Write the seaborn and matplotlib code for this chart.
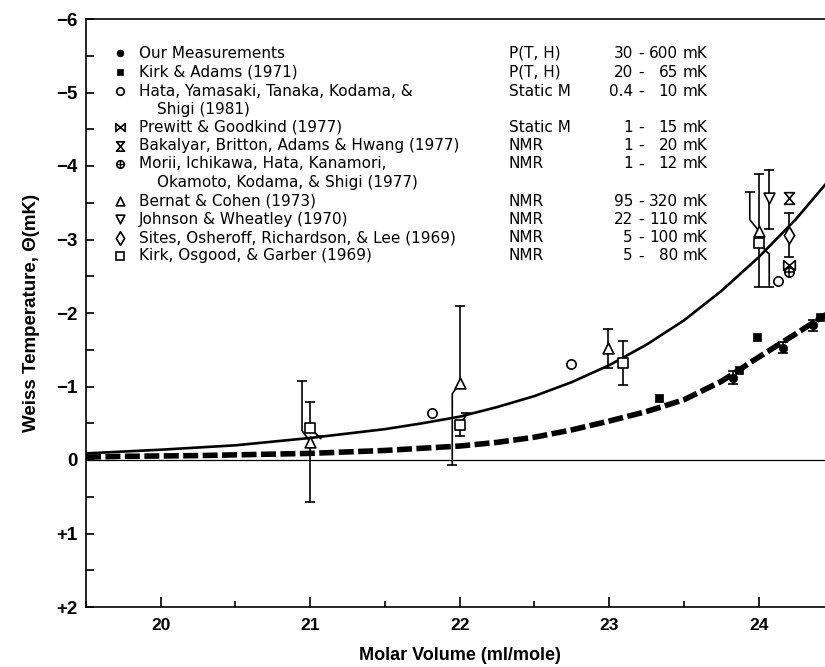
import matplotlib
matplotlib.use("Agg")
import matplotlib.pyplot as plt
from matplotlib.path import Path
from matplotlib.ticker import MultipleLocator
import seaborn as sns

# theory curves
curve_x = [19.5, 19.75, 20.0, 20.25, 20.5, 20.75, 21.0, 21.25, 21.5, 21.75, 22.0,
           22.25, 22.5, 22.75, 23.0, 23.25, 23.5, 23.75, 24.0, 24.25, 24.45]
solid_y = [-0.09, -0.115, -0.14, -0.17, -0.20, -0.25, -0.30, -0.36, -0.42, -0.50, -0.59,
           -0.72, -0.87, -1.06, -1.29, -1.57, -1.90, -2.30, -2.76, -3.28, -3.76]
dashed_y = [-0.04, -0.05, -0.055, -0.06, -0.07, -0.08, -0.09, -0.11, -0.13, -0.16, -0.19,
            -0.24, -0.31, -0.41, -0.53, -0.66, -0.82, -1.07, -1.40, -1.72, -1.98]

# data sets
ours_x = [23.83, 24.16, 24.36]
ours_y = [-1.12, -1.53, -1.83]
ours_top = [-1.21, -1.60, -1.91]
ours_bot = [-1.03, -1.45, -1.75]

kirk_adams_x = [23.33, 23.87, 23.99, 24.41]
kirk_adams_y = [-0.85, -1.23, -1.67, -1.95]

hata_x = [21.815, 22.745, 24.13]
hata_y = [-0.64, -1.30, -2.43]

prewitt_x = [24.2]
prewitt_y = [-2.65]

bakalyar_x = [24.2]
bakalyar_y = [-3.56]

morii_x = [24.2]
morii_y = [-2.56]

bernat_x = [21.0, 22.0, 22.99, 24.0]
bernat_y = [-0.25, -1.05, -1.53, -3.12]
bernat_top = [-1.07, -2.10, -1.78, -3.64]
bernat_bot = [0.57, 0.07, -1.25, -2.36]

johnson_x = [24.07]
johnson_y = [-3.56]
johnson_top = [-3.95]
johnson_bot = [-3.14]

sites_x = [24.2]
sites_y = [-3.06]
sites_top = [-3.36]
sites_bot = [-2.76]

kog_x = [21.0, 22.0, 23.09, 24.0]
kog_y = [-0.44, -0.47, -1.32, -2.95]
kog_top = [-0.79, -0.64, -1.62, -3.89]
kog_bot = [-0.32, -0.33, -1.02, -2.36]

y_ticks = [-6, -5, -4, -3, -2, -1, 0, 1, 2]
y_tick_labels = ["\u22126", "\u22125", "\u22124", "\u22123", "\u22122", "\u22121", "0", "+1", "+2"]
x_ticks = [20, 21, 22, 23, 24]

legend_rows = [
    ("Our Measurements", "P(T, H)", "30", "600"),
    ("Kirk & Adams (1971)", "P(T, H)", "20", "65"),
    ("Hata, Yamasaki, Tanaka, Kodama, &\nShigi (1981)", "Static M", "0.4", "10"),
    ("Prewitt & Goodkind (1977)", "Static M", "1", "15"),
    ("Bakalyar, Britton, Adams & Hwang (1977)", "NMR", "1", "20"),
    ("Morii, Ichikawa, Hata, Kanamori,\nOkamoto, Kodama, & Shigi (1977)", "NMR", "1", "12"),
    ("Bernat & Cohen (1973)", "NMR", "95", "320"),
    ("Johnson & Wheatley (1970)", "NMR", "22", "110"),
    ("Sites, Osheroff, Richardson, & Lee (1969)", "NMR", "5", "100"),
    ("Kirk, Osgood, & Garber (1969)", "NMR", "5", "80"),
]

sns.set_theme(style="ticks")
plt.rcParams["font.family"] = ["Liberation Sans", "DejaVu Sans"]
for key in ["text.color", "axes.labelcolor", "xtick.color", "ytick.color", "axes.edgecolor"]:
    plt.rcParams[key] = "black"

bowtie = Path([(-1, -0.85), (1, 0.85), (1, -0.85), (-1, 0.85), (-1, -0.85)],
              [Path.MOVETO, Path.LINETO, Path.LINETO, Path.LINETO, Path.CLOSEPOLY])
hourglass = Path([(-0.85, -1), (0.85, 1), (-0.85, 1), (0.85, -1), (-0.85, -1)],
                 [Path.MOVETO, Path.LINETO, Path.LINETO, Path.LINETO, Path.CLOSEPOLY])

fig = plt.figure(figsize=(8.25, 6.67), dpi=100)
ax = fig.add_axes([86 / 825, 60 / 667, 747.5 / 825, 588 / 667])

ax.axhline(0, color="black", lw=0.9, zorder=1)
sns.lineplot(x=curve_x, y=solid_y, ax=ax, color="black", lw=1.9, zorder=2)
sns.lineplot(x=curve_x, y=dashed_y, ax=ax, color="black", lw=4.0,
             linestyle=(0, (2.7, 0.8)), zorder=2)


def error_bars(xs, ys, tops, bots, up_dx=None, dn_dx=None):
    n = len(xs)
    up_dx = up_dx or [0] * n
    dn_dx = dn_dx or [0] * n
    for x, y, t, b, du, dd in zip(xs, ys, tops, bots, up_dx, dn_dx):
        for end, dx, sgn in ((t, du, -1), (b, dd, 1)):
            if dx:
                px = [x, x + dx, x + dx]
                py = [y, y + sgn * 0.15, end]
            else:
                px = [x, x]
                py = [y, end]
            ax.plot(px, py, color="black", lw=1.2, zorder=3)
            ax.plot([px[-1]], [end], marker="_", ms=7, mew=1.2, color="black", zorder=3)


error_bars(ours_x, ours_y, ours_top, ours_bot)
error_bars(bernat_x, bernat_y, bernat_top, bernat_bot,
           up_dx=[-0.055, 0, 0, -0.06], dn_dx=[0, -0.05, 0, 0])
error_bars(kog_x, kog_y, kog_top, kog_bot,
           up_dx=[0, 0.045, 0, 0], dn_dx=[0.07, 0, 0, 0.07])
error_bars(johnson_x, johnson_y, johnson_top, johnson_bot)
error_bars(sites_x, sites_y, sites_top, sites_bot)

open_kw = dict(facecolor="white", edgecolor="black", linewidth=1.2, zorder=4)
fill_kw = dict(color="black", edgecolor="black", linewidth=0.5, zorder=4)

series = [
    (ours_x, ours_y, "o", 36, fill_kw),
    (kirk_adams_x, kirk_adams_y, "s", 34, fill_kw),
    (hata_x, hata_y, "o", 45, open_kw),
    (prewitt_x, prewitt_y, bowtie, 70, open_kw),
    (bakalyar_x, bakalyar_y, hourglass, 70, open_kw),
    (morii_x, morii_y, "o", 45, open_kw),
    (bernat_x, bernat_y, "^", 60, open_kw),
    (johnson_x, johnson_y, "v", 60, open_kw),
    (sites_x, sites_y, "d", 75, open_kw),
    (kog_x, kog_y, "s", 50, open_kw),
]
for xs, ys, m, s, kw in series:
    sns.scatterplot(x=xs, y=ys, ax=ax, marker=m, s=s, legend=False, **kw)
sns.scatterplot(x=morii_x, y=morii_y, ax=ax, marker="+", s=45, color="black",
                linewidth=1.1, legend=False, zorder=5)

# text legend block (pixel rows of the first line of each entry)
row_y = [53.3, 72.3, 91.0, 127.3, 145.7, 164.0, 201.0, 219.3, 237.7, 256.0]
row_step = 18.4


def fx(px):
    return (px - 86) / 747.5


def fy(py):
    return (607 - py) / 588


txt_kw = dict(transform=ax.transAxes, fontsize=11, va="center", family="DejaVu Sans",
              color="black")
for (label, method, lo, hi), py, (_, _, m, s, kw) in zip(legend_rows, row_y, series):
    ax.scatter([fx(120)], [fy(py)], marker=m, s=s * 0.65, transform=ax.transAxes,
               clip_on=False, **kw)
    if label.startswith("Morii"):
        ax.scatter([fx(120)], [fy(py)], marker="+", s=29, color="black", linewidth=1.0,
                   transform=ax.transAxes, zorder=5)
    lines = label.split("\n")
    ax.text(fx(139), fy(py), lines[0], ha="left", **txt_kw)
    for k, extra in enumerate(lines[1:], start=1):
        ax.text(fx(157), fy(py + k * row_step), extra, ha="left", **txt_kw)
    ax.text(fx(509), fy(py), method, ha="left", **txt_kw)
    ax.text(fx(633), fy(py), lo, ha="right", **txt_kw)
    ax.text(fx(641), fy(py), "-", ha="center", **txt_kw)
    ax.text(fx(678), fy(py), hi, ha="right", **txt_kw)
    ax.text(fx(683), fy(py), "mK", ha="left", **txt_kw)

ax.set_xlim(19.5, 24.5)
ax.set_ylim(2, -6)
ax.set_xticks(x_ticks)
ax.set_xticklabels([str(v) for v in x_ticks], fontsize=12.5, fontweight="bold")
ax.xaxis.set_minor_locator(MultipleLocator(0.5))
ax.set_yticks(y_ticks)
ax.set_yticklabels(y_tick_labels, fontsize=13.5, fontweight="bold")
ax.yaxis.set_minor_locator(MultipleLocator(0.5))
ax.tick_params(axis="x", which="major", direction="in", length=7, width=1.2, pad=8)
ax.tick_params(axis="x", which="minor", direction="in", length=4.5, width=1.2)
ax.tick_params(axis="y", which="both", direction="in", length=6, width=1.2, pad=6)

for side in ["left", "bottom", "top", "right"]:
    ax.spines[side].set_linewidth(1.2)
    ax.spines[side].set_color("black")

ax.set_xlabel("Molar Volume (ml/mole)", fontsize=13, fontweight="bold", labelpad=10)
ax.set_ylabel("Weiss Temperature, \u0398(mK)", fontsize=13.5, fontweight="bold", labelpad=12)

fig.savefig("out.png", dpi=100)
